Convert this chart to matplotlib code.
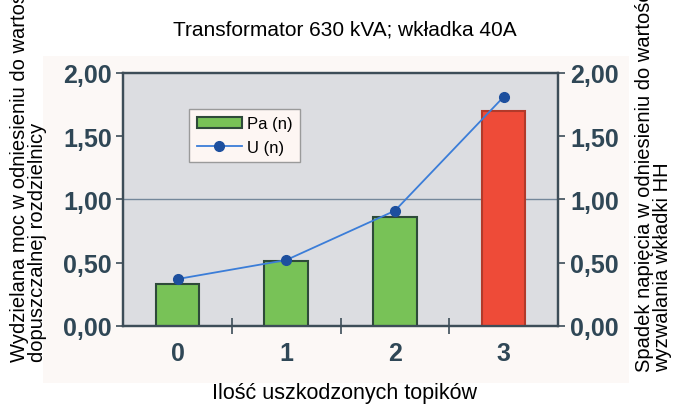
import matplotlib.pyplot as plt
from matplotlib.patches import Rectangle

# data
categories = ["0", "1", "2", "3"]
pa_values = [0.33, 0.51, 0.86, 1.70]
u_values = [0.37, 0.52, 0.91, 1.81]
bar_colors = ["#78c257", "#78c257", "#78c257", "#ee4b38"]
y_ticks = [0.0, 0.5, 1.0, 1.5, 2.0]
y_tick_labels = ["0,00", "0,50", "1,00", "1,50", "2,00"]

plt.rcParams["font.family"] = ["Liberation Sans", "DejaVu Sans"]
tick_col = "#2f4756"
spine_col = "#3d4d58"

fig = plt.figure(figsize=(6.73, 4.06), dpi=100)
fig.patch.set_facecolor("white")
# faint chart area behind the plot
fig.patches.append(Rectangle((0.064, 0.054), 0.87, 0.806, transform=fig.transFigure,
                             facecolor="#fcf8f6", edgecolor="none", zorder=-1))

ax = fig.add_axes([0.183, 0.195, 0.646, 0.623])
ax.set_facecolor("#dcdde1")
x = list(range(len(categories)))
bars = ax.bar(x, pa_values, width=0.40, color=bar_colors, zorder=3)
for b, c in zip(bars, bar_colors):
    b.set_edgecolor("#2e4a3a" if c != "#ee4b38" else "#b23a2a")
    b.set_linewidth(1.5)
ax.axhline(1.0, color="#74879a", lw=1.0, zorder=2)

ax.set_xlim(-0.5, 3.5)
ax.set_ylim(0, 2)
ax.set_yticks(y_ticks)
ax.set_yticklabels(y_tick_labels)
ax.set_xticks(x)
ax.set_xticklabels(categories)
ax.set_xticks([0.5, 1.5, 2.5], minor=True)
ax.tick_params(axis="x", which="major", length=0, pad=11)
ax.tick_params(axis="x", which="minor", length=12, direction="inout", color=spine_col, width=1.2)
ax.tick_params(axis="y", length=5, color=spine_col, width=1.2, pad=3)
for lab in ax.get_xticklabels() + ax.get_yticklabels():
    lab.set_fontsize(18)
    lab.set_fontweight("bold")
    lab.set_color(tick_col)
for s in ax.spines.values():
    s.set_color(spine_col)
    s.set_linewidth(1.6)

ax2 = ax.twinx()
ax2.set_ylim(0, 2)
ax2.set_yticks(y_ticks)
ax2.set_yticklabels(y_tick_labels)
ax2.tick_params(axis="y", length=5, color=spine_col, width=1.2, pad=4)
for lab in ax2.get_yticklabels():
    lab.set_fontsize(18)
    lab.set_fontweight("bold")
    lab.set_color(tick_col)
for s in ax2.spines.values():
    s.set_color(spine_col)
    s.set_linewidth(1.6)
line, = ax2.plot(x, u_values, color="#3b7dd8", lw=1.3, marker="o",
                 markersize=7, markerfacecolor="#1d4f9e", markeredgecolor="#1d4f9e", zorder=4)

leg = ax2.legend([bars, line], ["Pa (n)", "U (n)"], loc="upper left",
                 bbox_to_anchor=(0.152, 0.858), borderaxespad=0, fontsize=12,
                 frameon=True, fancybox=False, borderpad=0.45, handlelength=2.7,
                 handletextpad=0.3, labelspacing=0.5)
leg.get_frame().set_facecolor("#fdf6f3")
leg.get_frame().set_edgecolor("#9a9a9a")
leg.get_frame().set_alpha(1)
leg.legend_handles[0].set_edgecolor("#2e4a3a")

fig.text(0.512, 0.926, "Transformator 630 kVA; wkładka 40A", ha="center", va="center", fontsize=15)
fig.text(0.512, 0.030, "Ilość uszkodzonych topików", ha="center", va="center", fontsize=15.5)
fig.text(0.042, 0.108, "Wydzielana moc w odniesieniu do wartości\ndopuszczalnej rozdzielnicy",
         rotation=90, ha="center", va="bottom", multialignment="left", fontsize=14.5,
         linespacing=0.9)
fig.text(0.971, 0.083, "Spadek napięcia w odniesieniu do wartości\nwyzwalania wkładki HH",
         rotation=90, ha="center", va="bottom", multialignment="left", fontsize=14.5,
         linespacing=0.9)

fig.savefig("out.png", dpi=100)
